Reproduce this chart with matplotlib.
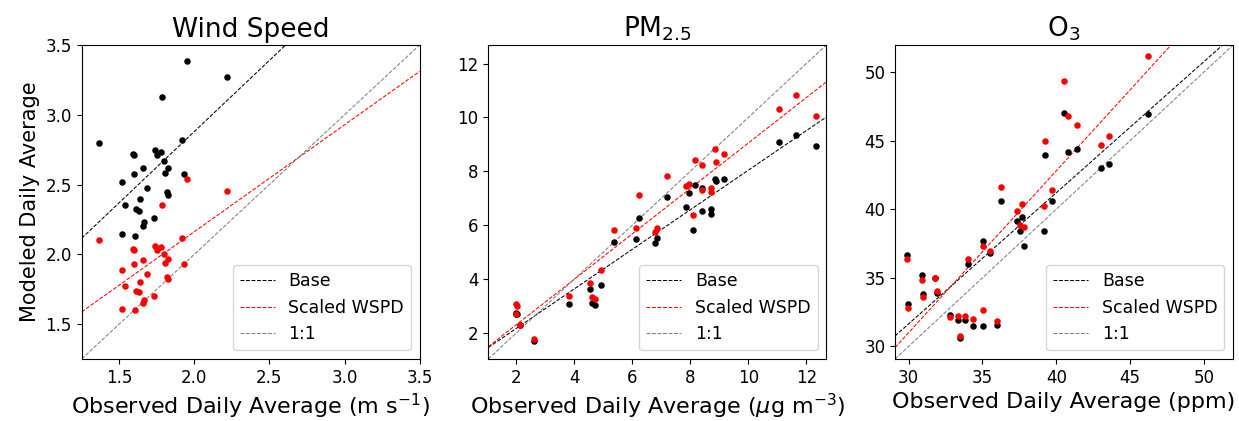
import matplotlib
matplotlib.use("Agg")
import matplotlib.pyplot as plt
import numpy as np

# wind speed (m/s)
ws_obs = [1.363, 1.518, 1.520, 1.538, 1.591, 1.600, 1.598, 1.603, 1.613, 1.631,
          1.640, 1.658, 1.658, 1.665, 1.683, 1.731, 1.740, 1.751, 1.776, 1.785,
          1.796, 1.807, 1.818, 1.823, 1.827, 1.918, 1.933, 1.951, 2.218]
ws_base = [2.80, 2.52, 2.144, 2.355, 2.72, 2.71, 2.573, 2.134, 2.324, 2.307,
           2.40, 2.616, 2.20, 2.232, 2.478, 2.26, 2.746, 2.71, 2.734, 3.13,
           2.67, 2.58, 2.45, 2.62, 2.426, 2.82, 2.575, 3.386, 3.272]
ws_scaled = [2.10, 1.89, 1.61, 1.77, 2.04, 2.03, 1.93, 1.60, 1.74, 1.73,
             1.80, 1.96, 1.65, 1.67, 1.86, 1.70, 2.06, 2.03, 2.05, 2.35,
             2.00, 1.935, 1.84, 1.965, 1.82, 2.115, 1.93, 2.54, 2.455]

# PM2.5 (ug/m3)
pm_obs = [1.98, 2.01, 2.00, 2.14, 2.60, 3.81, 4.55, 4.62, 4.72, 4.92,
          5.36, 6.11, 6.22, 6.78, 6.84, 7.18, 7.85, 7.95, 8.09, 8.15,
          8.41, 8.41, 8.72, 8.72, 8.84, 8.90, 9.15, 11.06, 11.66, 12.32]
pm_base = [2.74, 2.71, 2.70, 2.31, 1.69, 3.09, 3.64, 3.11, 3.02, 3.79,
           5.37, 5.49, 6.28, 5.33, 5.52, 7.04, 6.69, 7.19, 5.83, 7.49,
           6.53, 7.39, 6.60, 6.41, 7.73, 7.65, 7.73, 9.07, 9.34, 8.94]
pm_scaled = [3.09, 2.98, 2.70, 2.30, 1.79, 3.36, 3.85, 3.32, 3.26, 4.34,
             5.83, 5.91, 7.13, 5.76, 5.88, 7.84, 7.47, 7.52, 6.36, 8.42,
             7.31, 8.22, 7.37, 7.24, 8.84, 8.36, 8.65, 10.30, 10.84, 10.05]

# O3 (ppb)
o3_obs = [29.91, 29.95, 30.93, 30.97, 31.76, 31.90, 32.78, 33.32, 33.45, 33.81,
          34.35, 33.99, 35.03, 35.03, 35.48, 35.98, 36.28, 37.33, 37.52, 37.70,
          37.81, 39.14, 39.25, 39.70, 40.52, 40.79, 41.40, 43.05, 43.54, 46.18]
o3_base = [36.68, 33.09, 35.23, 33.82, 34.98, 33.89, 32.31, 31.90, 30.61, 31.95,
           31.51, 36.00, 37.65, 31.51, 36.81, 31.53, 40.57, 39.14, 38.41, 39.40,
           37.29, 38.41, 43.95, 40.57, 47.01, 44.14, 44.39, 42.97, 43.32, 46.94]
o3_scaled = [36.37, 32.82, 34.86, 33.60, 34.98, 34.06, 32.14, 32.19, 30.73, 32.19,
             32.02, 36.39, 37.34, 32.62, 36.92, 31.82, 41.59, 39.84, 38.87, 40.40,
             38.67, 40.20, 44.97, 41.42, 49.31, 46.82, 46.14, 44.65, 45.31, 51.14]

# fitted lines (slope, intercept)
ws_fit_base, ws_fit_scaled = (1.02, 0.84), (0.766, 0.63)
pm_fit_base, pm_fit_scaled = (0.734, 0.70), (0.843, 0.62)
o3_fit_base, o3_fit_scaled = (0.956, 2.96), (1.18, -4.40)

panels = [
    ("Wind Speed", "Observed Daily Average (m s$^{-1}$)", ws_obs, ws_base, ws_scaled,
     ws_fit_base, ws_fit_scaled, (1.25, 3.5), [1.5, 2.0, 2.5, 3.0, 3.5], [1.5, 2.0, 2.5, 3.0, 3.5]),
    ("PM$_{2.5}$", "Observed Daily Average ($\\mu$g m$^{-3}$)", pm_obs, pm_base, pm_scaled,
     pm_fit_base, pm_fit_scaled, (1.03, 12.69), [2, 4, 6, 8, 10, 12], [2, 4, 6, 8, 10, 12]),
    ("O$_3$", "Observed Daily Average (ppm)", o3_obs, o3_base, o3_scaled,
     o3_fit_base, o3_fit_scaled, (29.08, 51.97), [30, 35, 40, 45, 50], [30, 35, 40, 45, 50]),
]

fig = plt.figure(figsize=(12.39, 4.21), dpi=100)
lefts = [0.0659, 0.3941, 0.7224]

for i, (title, xlabel, obs, base, scaled, fb, fs, lim, xt, yt) in enumerate(panels):
    ax = fig.add_axes([lefts[i], 0.1473, 0.2728, 0.7458])
    ax.scatter(obs, base, s=22, color="black", linewidths=0, zorder=3)
    ax.scatter(obs, scaled, s=22, color="red", linewidths=0, zorder=3)
    xx = np.linspace(lim[0], lim[1], 10)
    ax.plot(xx, fb[0] * xx + fb[1], "--", color="black", lw=0.75, label="Base")
    ax.plot(xx, fs[0] * xx + fs[1], "--", color="red", lw=0.75, label="Scaled WSPD")
    ax.plot(xx, xx, "--", color="gray", lw=0.75, label="1:1")
    ax.set_xlim(lim)
    ax.set_ylim(lim)
    ax.set_xticks(xt)
    ax.set_yticks(yt)
    ax.tick_params(labelsize=12)
    ax.set_title(title, fontsize=19)
    ax.set_xlabel(xlabel, fontsize=16)
    if i == 0:
        ax.set_ylabel("Modeled Daily Average", fontsize=15)
    ax.legend(loc="lower right", fontsize=12.5)

fig.savefig("out.png", dpi=100)
